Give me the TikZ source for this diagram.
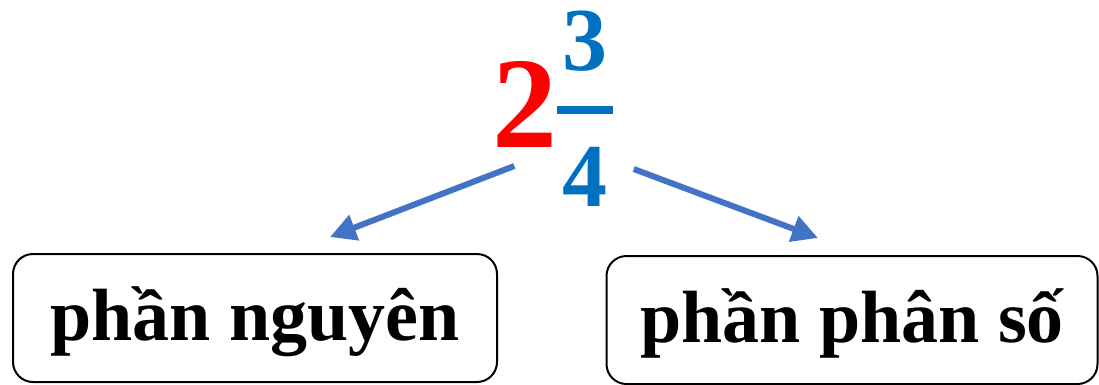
\documentclass[tikz,border=0pt]{standalone}
\usepackage{fontspec}
\setmainfont{Liberation Serif}
\usepackage{tikz}
\usetikzlibrary{positioning}
\usetikzlibrary{arrows.meta}

\definecolor{wholered}{HTML}{FF0000}
\definecolor{fracblue}{HTML}{0070C0}
\definecolor{arrowblue}{HTML}{4472C4}

\tikzset{
  partbox/.style={draw, line width=2pt, rounded corners=20pt, minimum width=484pt,
    minimum height=128pt, inner sep=0pt, text height=60pt, text depth=16pt,
    font=\fontsize{74}{80}\selectfont\bfseries},
  digit/.style={inner sep=0pt, text=fracblue, font=\fontsize{90}{96}\selectfont\bfseries},
  partarrow/.style={draw=arrowblue, line width=6pt, -{Triangle[length=26pt,width=26pt]}}
}

\begin{document}
\begin{tikzpicture}[x=1pt, y=-1pt]
  \useasboundingbox (0,0) rectangle (1099,384);

  % mixed number
  \node[fill=fracblue, minimum width=56pt, minimum height=8pt, inner sep=0pt] (bar) at (585,110) {};
  \node[digit, above=34pt of bar] (num) {3};
  \node[digit, below=33pt of bar] (den) {4};
  \node[inner sep=0pt, anchor=base, text=wholered,
    font=\fontsize{130}{136}\selectfont\bfseries] (whole) at (525,147) {2};

  % the two parts
  \node[partbox] (int) at (255,318) {phần nguyên};
  \node[partbox, minimum width=491pt] (frac) at (852,320) {phần phân số};

  % arrows
  \draw[partarrow] ([shift={(-48,-11)}]den.west) -- ([shift={(75,-16)}]int.north);
  \draw[partarrow] ([shift={(26,-8)}]den.east) -- ([shift={(-34,-17)}]frac.north);
\end{tikzpicture}
\end{document}
